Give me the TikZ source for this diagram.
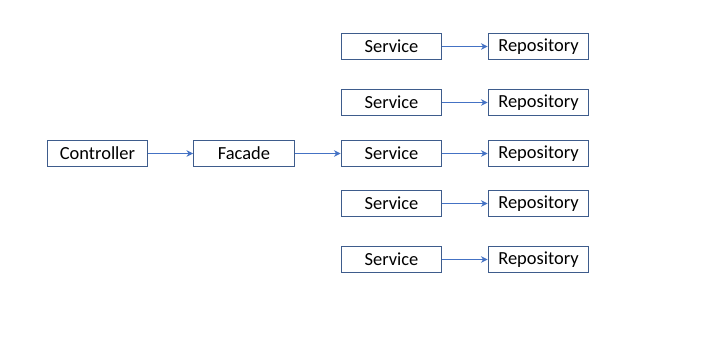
\documentclass[tikz,border=0pt]{standalone}
\usepackage{fontspec}
\setmainfont{Carlito}
\usepackage{tikz}
\usetikzlibrary{
  arrows.meta,
  positioning
}
\definecolor{boxblue}{RGB}{62,92,140}
\definecolor{arrowblue}{RGB}{68,114,196}
\tikzset{
  layerbox/.style={
    draw=boxblue,
    line width=0.6pt,
    minimum width=57.3pt,
    minimum height=15.3pt,
    inner sep=0pt,
    font=\fontsize{10.5pt}{12pt}\selectfont
  },
  callarrow/.style={-{Stealth[length=3.8pt,width=3.8pt]},line width=0.5pt,draw=arrowblue},
}
\begin{document}
\begin{tikzpicture}[x=0.02cm,y=-0.02cm]
  \useasboundingbox (0,0) rectangle (715,336);
  % entry chain
  \node[layerbox] (ctrl) at (97.5,153.5) {Controller};
  \node[layerbox] (facade) at (244,153.5) {Facade};
  \draw[callarrow] (ctrl) -- (facade);

  % service and repository rows
  \foreach \i/\y in {1/46.5,2/102.5,3/153.5,4/203.5,5/259.5} {
    \node[layerbox] (svc\i) at (391.5,\y) {Service};
    \node[layerbox] (repo\i) at (538.5,\y) {Repository};
    \draw[callarrow] (svc\i) -- (repo\i);
  }
  \draw[callarrow] (facade) -- (svc3);
\end{tikzpicture}
\end{document}
